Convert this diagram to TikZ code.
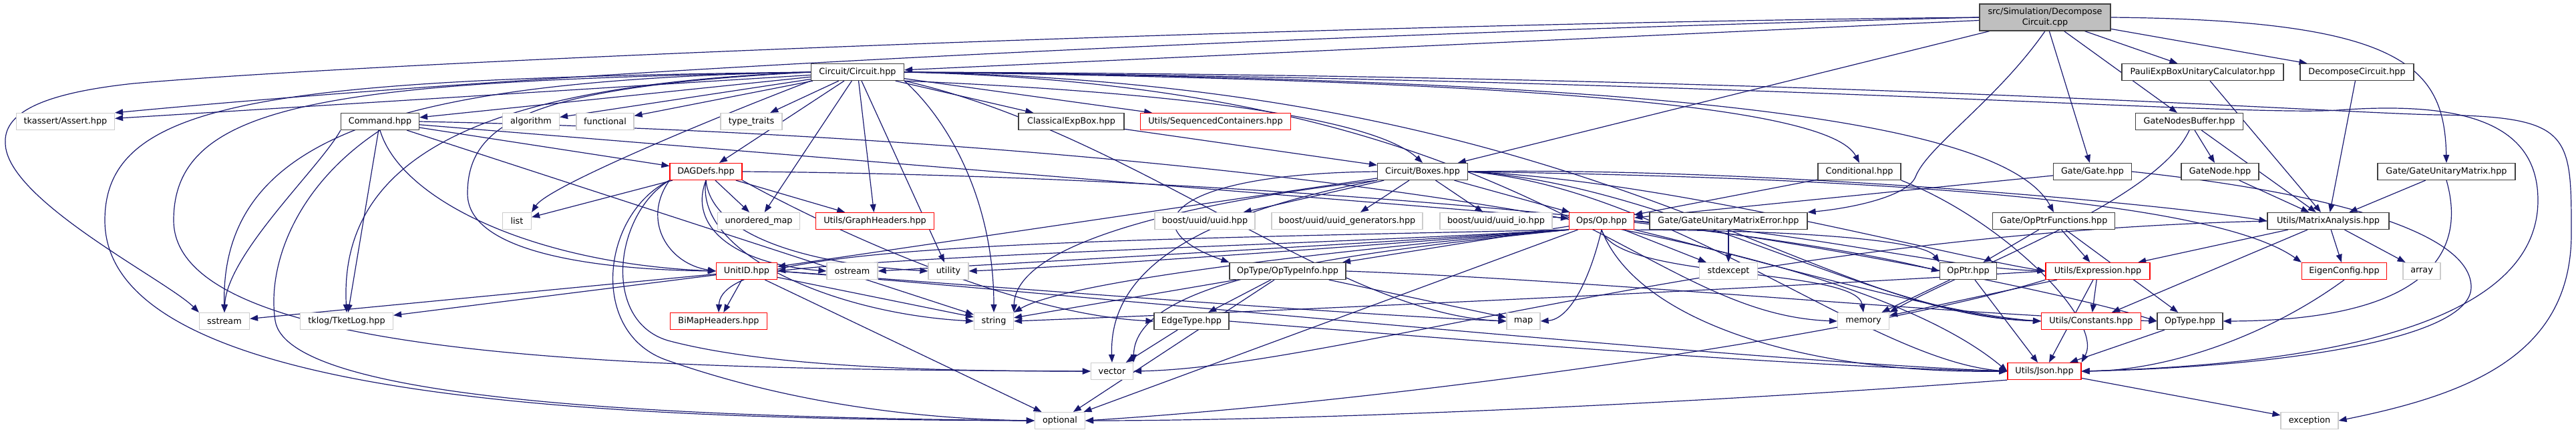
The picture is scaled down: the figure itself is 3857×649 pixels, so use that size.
\documentclass[tikz,border=0pt]{standalone}
\usepackage{fontspec}
\setmainfont{DejaVu Sans}
\usepackage{xcolor}
\usepackage{tikz}
\usetikzlibrary{arrows.meta, backgrounds}
\definecolor{dxedge}{RGB}{25,25,112}
\definecolor{dxrootfill}{RGB}{191,191,191}
\definecolor{dxframe}{RGB}{64,64,64}
\definecolor{dxred}{RGB}{255,0,0}
\definecolor{dxlight}{RGB}{204,204,204}
\tikzset{
  file/.style     = {rectangle, draw=dxframe, line width=0.6pt, fill=white, text=black,
                     inner sep=0pt, minimum height=12.5pt, font=\fontsize{6.4}{7.6}\selectfont},
  sysfile/.style  = {file, draw=dxlight},
  cutfile/.style  = {file, draw=dxred},
  rootfile/.style = {file, fill=dxrootfill, minimum height=20pt, align=center},
  dep/.style      = {-{Triangle[length=6pt,width=4.5pt]}, line width=0.6pt, draw=dxedge},
}

\begin{document}
\begin{tikzpicture}[x=0.5pt, y=-0.5pt]
  \useasboundingbox (0,0) rectangle (3857,649);
  % rank 0
  \node[rootfile, minimum width=98pt] (root) at (3062,26) {src/Simulation/Decompose\\Circuit.cpp};
  % rank 1
  \node[file, minimum width=69.5pt] (circuit) at (1284,108) {Circuit/Circuit.hpp};
  \node[file, minimum width=121pt] (pauli) at (3298,108) {PauliExpBoxUnitaryCalculator.hpp};
  \node[file, minimum width=85pt] (dch) at (3529,108) {DecomposeCircuit.hpp};
  % rank 2
  \node[sysfile, minimum width=73.5pt] (assert) at (98,182) {tkassert/Assert.hpp};
  \node[file, minimum width=58.5pt] (command) at (569,182) {Command.hpp};
  \node[sysfile, minimum width=42.5pt] (algorithm) at (795,182) {algorithm};
  \node[sysfile, minimum width=43pt] (functional) at (906,182) {functional};
  \node[sysfile, minimum width=46pt] (typetraits) at (1125,182) {type\_traits};
  \node[file, minimum width=79pt] (cexp) at (1604,182) {ClassicalExpBox.hpp};
  \node[cutfile, minimum width=112.5pt] (seqc) at (1820,182) {Utils/SequencedContainers.hpp};
  \node[file, minimum width=80.5pt] (gnb) at (3278,182) {GateNodesBuffer.hpp};
  % rank 3
  \node[cutfile, minimum width=54pt] (dagdefs) at (1057,257) {DAGDefs.hpp};
  \node[file, minimum width=67.5pt] (boxes) at (2130,257) {Circuit/Boxes.hpp};
  \node[file, minimum width=62pt] (conditional) at (2784,257) {Conditional.hpp};
  \node[file, minimum width=58.5pt] (gate) at (3133,257) {Gate/Gate.hpp};
  \node[file, minimum width=58pt] (gatenode) at (3324,257) {GateNode.hpp};
  \node[file, minimum width=103pt] (gum) at (3663,257) {Gate/GateUnitaryMatrix.hpp};
  % rank 4
  \node[sysfile, minimum width=21.5pt] (list) at (774,331) {list};
  \node[sysfile, minimum width=61.5pt] (umap) at (1136,331) {unordered\_map};
  \node[cutfile, minimum width=88.5pt] (graphh) at (1310,331) {Utils/GraphHeaders.hpp};
  \node[sysfile, minimum width=75pt] (uuid) at (1804,331) {boost/uuid/uuid.hpp};
  \node[sysfile, minimum width=113pt] (uuidgen) at (2017,331) {boost/uuid/uuid\_generators.hpp};
  \node[sysfile, minimum width=84pt] (uuidio) at (2240,331) {boost/uuid/uuid\_io.hpp};
  \node[cutfile, minimum width=48.5pt] (op) at (2398,331) {Ops/Op.hpp};
  \node[file, minimum width=118pt] (gume) at (2588,331) {Gate/GateUnitaryMatrixError.hpp};
  \node[file, minimum width=91.5pt] (opptrf) at (3075,331) {Gate/OpPtrFunctions.hpp};
  \node[file, minimum width=91pt] (ma) at (3486,331) {Utils/MatrixAnalysis.hpp};
  % rank 5
  \node[cutfile, minimum width=45.5pt] (unitid) at (1118,406) {UnitID.hpp};
  \node[sysfile, minimum width=38pt] (ostream) at (1276,406) {ostream};
  \node[sysfile, minimum width=30pt] (utility) at (1420,406) {utility};
  \node[file, minimum width=87pt] (optypeinfo) at (1928,406) {OpType/OpTypeInfo.hpp};
  \node[sysfile, minimum width=43.5pt] (stdexcept) at (2588,406) {stdexcept};
  \node[file, minimum width=42.5pt] (opptr) at (2947,406) {OpPtr.hpp};
  \node[cutfile, minimum width=78pt] (expression) at (3141,406) {Utils/Expression.hpp};
  \node[cutfile, minimum width=63.5pt] (eigenconfig) at (3510,406) {EigenConfig.hpp};
  \node[sysfile, minimum width=28pt] (array) at (3626,406) {array};
  % rank 6
  \node[sysfile, minimum width=37.5pt] (sstream) at (336,481) {sstream};
  \node[sysfile, minimum width=69.5pt] (tklog) at (519,481) {tklog/TketLog.hpp};
  \node[cutfile, minimum width=72.5pt] (bimap) at (1076,481) {BiMapHeaders.hpp};
  \node[sysfile, minimum width=29.5pt] (string) at (1488,481) {string};
  \node[file, minimum width=56pt] (edgetype) at (1784,481) {EdgeType.hpp};
  \node[sysfile, minimum width=25pt] (map) at (2281,481) {map};
  \node[sysfile, minimum width=38.5pt] (memory) at (2790,481) {memory};
  \node[cutfile, minimum width=74.5pt] (constants) at (3131,481) {Utils/Constants.hpp};
  \node[file, minimum width=49pt] (optype) at (3279,481) {OpType.hpp};
  % rank 7
  \node[sysfile, minimum width=31.5pt] (vector) at (1665,556) {vector};
  \node[cutfile, minimum width=55pt] (json) at (3061,556) {Utils/Json.hpp};
  % rank 8
  \node[sysfile, minimum width=37.5pt] (optional) at (1587,630) {optional};
  \node[sysfile, minimum width=43pt] (exception) at (3458,630) {exception};

  \begin{scope}[on background layer]
  % plain include edges
  \foreach \s/\t in {root/pauli, root/dch, root/gnb, root/gate, root/boxes, root/circuit,
      circuit/command, circuit/algorithm, circuit/functional, circuit/typetraits,
      circuit/umap, circuit/graphh, circuit/cexp, circuit/seqc,
      circuit/utility, circuit/assert, circuit/dagdefs,
      command/dagdefs, command/tklog, command/string, command/op,
      cexp/boxes, dagdefs/list, dagdefs/umap, dagdefs/graphh,
      boxes/uuid, boxes/uuidgen, boxes/uuidio, boxes/op, boxes/unitid,
      gnb/gatenode, gnb/ma, gatenode/ma, pauli/ma, dch/ma, gum/ma,
      gume/stdexcept, op/stdexcept,
      ma/eigenconfig, ma/array, ma/expression, ma/constants,
      opptrf/opptr, opptrf/expression, opptrf/optype,
      opptr/memory, opptr/json, expression/constants, expression/json, expression/memory,
      optype/json, optypeinfo/edgetype, optypeinfo/string, optypeinfo/optional, optypeinfo/map,
      edgetype/vector, unitid/sstream, unitid/tklog, unitid/bimap, unitid/string, unitid/optional,
      op/optypeinfo, op/optional, json/exception, conditional/op, gate/op}
    \draw[dep] (\s) -- (\t);

  % root
  \draw[dep] (root.west) .. controls (2000,50) and (900,100) .. (assert.north east);
  \draw[dep] (root.west) .. controls (2000,35) and (600,90) .. (200,125)
             .. controls (60,140) and (5,170) .. (8,215)
             .. controls (10,300) and (250,420) .. (sstream.north west);
  \draw[dep] (root.south) .. controls (2990,150) and (2885,220) .. (2868,265)
             .. controls (2855,295) and (2770,312) .. (gume.north east);
  \draw[dep] (root.east) .. controls (3600,30) and (3660,100) .. (gum.north);

  % Circuit/Circuit.hpp
  \draw[dep] (circuit.south west) .. controls (1060,180) and (820,280) .. (list.north east);
  \draw[dep] (circuit.west) .. controls (600,120) and (330,200) .. (sstream.north);
  \draw[dep] (circuit.west) .. controls (800,125) and (505,200) .. (tklog.north);
  \draw[dep] (circuit.west) .. controls (400,118) and (157,150) .. (157,330)
             .. controls (157,600) and (900,628) .. (optional.west);
  \draw[dep] (circuit.west) .. controls (500,122) and (260,150) .. (260,330)
             .. controls (260,545) and (1000,553) .. (vector.west);
  \draw[dep] (circuit.west) .. controls (800,130) and (700,180) .. (700,290)
             .. controls (700,380) and (900,404) .. (unitid.west);
  \draw[dep] (circuit.south east) .. controls (1800,140) and (2060,180) .. (boxes.north);
  \draw[dep] (circuit.east) .. controls (2300,120) and (2740,160) .. (conditional.north);
  \draw[dep] (circuit.east) .. controls (2500,118) and (3000,180) .. (opptrf.north);
  \draw[dep] (circuit.south east) .. controls (1420,180) and (1488,300) .. (string.north);
  \draw[dep] (circuit.south east) .. controls (1700,200) and (2000,470) .. (map.west);
  \draw[dep] (circuit.east) .. controls (2300,130) and (2450,470) .. (memory.west);
  \draw[dep] (circuit.east) .. controls (2400,125) and (2700,470) .. (constants.west);
  \draw[dep] (circuit.east) .. controls (2600,118) and (3350,175) .. (3500,165)
             .. controls (3700,150) and (3800,190) .. (3800,300)
             .. controls (3800,480) and (3500,545) .. (json.east);
  \draw[dep] (circuit.east) .. controls (2700,112) and (3500,170) .. (3650,172)
             .. controls (3850,175) and (3850,200) .. (3850,350)
             .. controls (3850,530) and (3700,590) .. (exception.east);

  % Command.hpp
  \draw[dep] (command.south west) .. controls (480,250) and (340,380) .. (sstream.north);
  \draw[dep] (command.south) .. controls (440,280) and (400,400) .. (412,480)
             .. controls (430,600) and (1000,625) .. (optional.west);
  \draw[dep] (command.south) .. controls (600,300) and (800,395) .. (unitid.west);
  \draw[dep] (command.east) .. controls (1500,200) and (2700,300) .. (json.west);

  % DAGDefs.hpp
  \draw[dep] (dagdefs.south west) .. controls (960,330) and (1000,395) .. (unitid.west);
  \draw[dep] (dagdefs.south) .. controls (1030,340) and (1100,395) .. (ostream.west);
  \draw[dep] (dagdefs.south) .. controls (1065,350) and (1200,395) .. (utility.west);
  \draw[dep] (dagdefs.south) .. controls (1040,380) and (1250,470) .. (string.west);
  \draw[dep] (dagdefs.south west) .. controls (920,320) and (900,480) .. (1000,510)
             .. controls (1150,550) and (1400,556) .. (vector.west);
  \draw[dep] (dagdefs.south west) .. controls (900,320) and (880,500) .. (1000,540)
             .. controls (1200,610) and (1400,628) .. (optional.west);
  \draw[dep] (dagdefs.south east) .. controls (1200,320) and (1500,470) .. (edgetype.west);
  \draw[dep] (dagdefs.east) .. controls (1800,262) and (2600,330) .. (opptr.west);

  % Circuit/Boxes.hpp
  \draw[dep] (boxes.west) .. controls (1750,260) and (1690,340) .. (optypeinfo.north west);
  \draw[dep] (boxes.south west) .. controls (1800,300) and (1520,360) .. (string.north east);
  \draw[dep] (boxes.south west) .. controls (1800,320) and (1660,400) .. (vector.north);
  \draw[dep] (boxes.east) .. controls (2600,250) and (3200,300) .. (ma.west);
  \draw[dep] (boxes.east) .. controls (2700,265) and (3300,290) .. (eigenconfig.north west);
  \draw[dep] (boxes.east) .. controls (2500,280) and (2800,540) .. (json.west);
  \draw[dep] (boxes.east) .. controls (2500,275) and (2800,470) .. (constants.west);
  \draw[dep] (boxes.east) .. controls (2500,270) and (2900,380) .. (expression.west);

  % Ops/Op.hpp
  \draw[dep] (op.south west) .. controls (2000,365) and (1400,380) .. (unitid.east);
  \draw[dep] (op.south west) .. controls (2000,368) and (1500,395) .. (ostream.east);
  \draw[dep] (op.south west) .. controls (2000,372) and (1600,400) .. (utility.east);
  \draw[dep] (op.south west) .. controls (2000,375) and (1600,420) .. (string.north east);
  \draw[dep] (op.south west) .. controls (1500,362) and (1080,370) .. (bimap.north);
  \draw[dep] (op.south) .. controls (2380,420) and (2350,478) .. (map.east);
  \draw[dep] (op.south west) .. controls (2000,380) and (1700,420) .. (vector.north east);
  \draw[dep] (op.south) .. controls (2420,420) and (2780,400) .. (memory.north);
  \draw[dep] (op.south) .. controls (2450,480) and (2700,560) .. (json.west);
  \draw[dep] (op.south east) .. controls (2600,380) and (2900,470) .. (constants.west);
  \draw[dep] (op.east) .. controls (2700,360) and (3100,440) .. (optype.west);
  \draw[dep] (op.south east) .. controls (2700,345) and (2880,360) .. (opptr.north west);
  \draw[dep] (op.east) .. controls (2700,345) and (2900,400) .. (expression.west);

  % the rest
  \draw[dep] (unitid.east) .. controls (1500,430) and (2000,470) .. (map.west);
  \draw[dep] (unitid.east) .. controls (1600,440) and (2600,540) .. (json.west);
  \draw[dep] (edgetype.east) .. controls (2200,510) and (2700,550) .. (json.west);
  \draw[dep] (optypeinfo.east) .. controls (2400,420) and (2900,470) .. (optype.west);
  \draw[dep] (ma.west) .. controls (2600,350) and (2000,550) .. (vector.east);
  \draw[dep] (gum.south) .. controls (3700,400) and (3600,480) .. (optype.east);
  \draw[dep] (gate.east) .. controls (3500,290) and (3700,350) .. (3700,430)
             .. controls (3700,510) and (3400,550) .. (json.east);
  \draw[dep] (conditional.south east) .. controls (3000,330) and (3150,480) .. (json.north east);
  \draw[dep] (eigenconfig.south) .. controls (3400,500) and (3250,555) .. (json.east);
  \draw[dep] (json.south west) .. controls (2600,600) and (2000,630) .. (optional.east);
  \draw[dep] (expression.south west) .. controls (2800,500) and (2100,600) .. (optional.east);
  \draw[dep] (expression.west) .. controls (2500,440) and (1800,470) .. (string.east);
  \draw[dep] (gnb.south) .. controls (3230,300) and (2950,400) .. (memory.north east);
  \end{scope}
\end{tikzpicture}
\end{document}
